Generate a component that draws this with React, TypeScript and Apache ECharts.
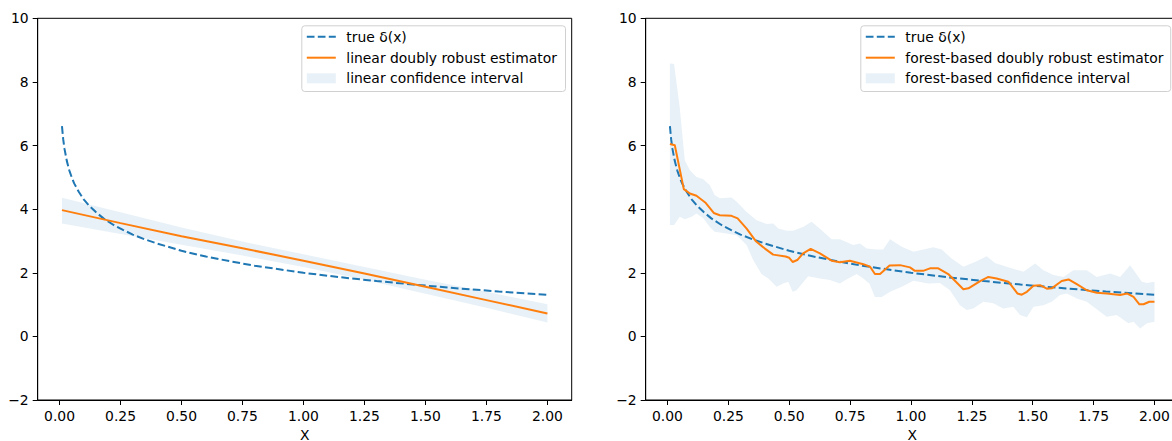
import React, { useEffect, useRef } from "react";
import * as echarts from "echarts";

// ---------- data ----------
const xTicks = [0, 0.25, 0.5, 0.75, 1.0, 1.25, 1.5, 1.75, 2.0];

const trueX = [0.01, 0.015, 0.02, 0.03, 0.04, 0.05, 0.06, 0.08, 0.1, 0.12, 0.15, 0.18, 0.22, 0.26, 0.3, 0.35, 0.4, 0.5, 0.6, 0.7, 0.8, 0.9, 1.0, 1.15, 1.3, 1.45, 1.6, 1.8, 2.0];
const trueY = [6.61, 6.2, 5.91, 5.51, 5.22, 5.0, 4.81, 4.53, 4.3, 4.12, 3.9, 3.71, 3.51, 3.35, 3.2, 3.05, 2.92, 2.69, 2.51, 2.36, 2.22, 2.11, 2.0, 1.86, 1.74, 1.63, 1.53, 1.41, 1.31];

const linX = [0.01, 0.25, 0.5, 0.75, 1.0, 1.25, 1.5, 1.75, 2.0];
const linY = [3.97, 3.56, 3.15, 2.77, 2.38, 1.98, 1.56, 1.14, 0.72];
const linUpper = [4.36, 3.9, 3.42, 2.98, 2.58, 2.18, 1.78, 1.4, 1.01];
const linLower = [3.55, 3.22, 2.88, 2.54, 2.18, 1.78, 1.34, 0.9, 0.44];

const forestX = [0.01, 0.03, 0.067, 0.092, 0.119, 0.155, 0.19, 0.215, 0.263, 0.288, 0.325, 0.362, 0.4, 0.434, 0.485, 0.5, 0.514, 0.533, 0.557, 0.588, 0.626, 0.674, 0.708, 0.749, 0.804, 0.832, 0.852, 0.873, 0.912, 0.955, 0.996, 1.016, 1.05, 1.078, 1.112, 1.153, 1.215, 1.236, 1.284, 1.318, 1.352, 1.4, 1.437, 1.455, 1.476, 1.503, 1.53, 1.558, 1.578, 1.619, 1.647, 1.681, 1.722, 1.763, 1.804, 1.859, 1.887, 1.914, 1.938, 1.955, 1.979, 2.0];
const forestY = [6.05, 6.01, 4.63, 4.49, 4.42, 4.21, 3.88, 3.81, 3.79, 3.71, 3.39, 3.0, 2.76, 2.57, 2.51, 2.47, 2.34, 2.4, 2.61, 2.75, 2.61, 2.38, 2.33, 2.38, 2.27, 2.19, 1.96, 1.96, 2.23, 2.24, 2.17, 2.06, 2.06, 2.14, 2.14, 1.96, 1.48, 1.51, 1.74, 1.87, 1.82, 1.72, 1.35, 1.31, 1.4, 1.59, 1.61, 1.5, 1.51, 1.74, 1.79, 1.64, 1.45, 1.37, 1.35, 1.3, 1.35, 1.24, 1.01, 1.01, 1.09, 1.09];

const forestUpperX = [0.01, 0.027, 0.05, 0.071, 0.092, 0.119, 0.147, 0.174, 0.194, 0.215, 0.263, 0.284, 0.325, 0.366, 0.407, 0.434, 0.455, 0.489, 0.516, 0.557, 0.592, 0.633, 0.674, 0.708, 0.763, 0.79, 0.818, 0.859, 0.886, 0.914, 0.962, 1.01, 1.092, 1.126, 1.167, 1.215, 1.263, 1.311, 1.345, 1.393, 1.462, 1.51, 1.544, 1.585, 1.626, 1.667, 1.722, 1.763, 1.818, 1.859, 1.9, 1.948, 1.969, 2.0];
const forestUpperY = [8.58, 8.56, 7.21, 5.54, 5.22, 5.01, 4.94, 4.75, 4.44, 4.34, 4.37, 4.23, 3.91, 3.65, 3.53, 3.55, 3.39, 3.32, 3.32, 3.44, 3.6, 3.34, 3.05, 3.05, 2.87, 2.92, 2.76, 2.73, 2.73, 3.05, 2.82, 2.66, 2.8, 2.73, 2.45, 2.19, 2.34, 2.52, 2.31, 2.19, 2.03, 2.29, 2.08, 1.93, 1.87, 2.08, 2.08, 1.87, 1.98, 1.87, 2.24, 1.72, 1.68, 1.72];

const forestLowerX = [0.01, 0.027, 0.05, 0.071, 0.099, 0.119, 0.147, 0.174, 0.194, 0.236, 0.284, 0.325, 0.352, 0.386, 0.414, 0.448, 0.475, 0.496, 0.514, 0.53, 0.578, 0.626, 0.667, 0.708, 0.742, 0.777, 0.804, 0.829, 0.852, 0.88, 0.914, 0.962, 1.01, 1.071, 1.119, 1.16, 1.201, 1.229, 1.256, 1.297, 1.338, 1.379, 1.42, 1.448, 1.476, 1.503, 1.544, 1.578, 1.612, 1.64, 1.681, 1.722, 1.763, 1.804, 1.845, 1.893, 1.914, 1.941, 1.969, 2.0];
const forestLowerY = [3.5, 3.5, 3.76, 3.68, 3.76, 3.86, 3.71, 3.44, 3.29, 3.24, 3.18, 2.87, 2.4, 1.96, 1.82, 1.56, 1.66, 1.72, 1.4, 1.45, 1.89, 1.82, 1.77, 1.66, 1.82, 1.96, 1.82, 1.66, 1.24, 1.24, 1.4, 1.56, 1.75, 1.66, 1.68, 1.45, 0.98, 0.83, 0.88, 1.09, 1.04, 0.88, 0.93, 0.67, 0.6, 0.93, 0.98, 1.09, 1.3, 1.35, 1.19, 1.09, 0.85, 0.62, 0.67, 0.41, 0.46, 0.25, 0.41, 0.46];

const leftLabels = ["true δ(x)", "linear doubly robust estimator", "linear confidence interval"];
const rightLabels = ["true δ(x)", "forest-based doubly robust estimator", "forest-based confidence interval"];

// ---------- helpers ----------
const BLUE = "#1f77b4";
const ORANGE = "#ff7f0e";
const BAND = "rgba(31,119,180,0.1)";
const FONT = "DejaVu Sans";
const FS = 13.9;

const zip = (xs: number[], ys: number[]) => xs.map((x, i) => [x, ys[i]]);

function bandPolygon(ux: number[], uy: number[], lx: number[], ly: number[]) {
  const up = zip(ux, uy);
  const lo = zip(lx, ly).reverse();
  return up.concat(lo);
}

function bandSeries(poly: number[][], idx: number) {
  return {
    type: "custom",
    xAxisIndex: idx,
    yAxisIndex: idx,
    z: 1,
    silent: true,
    data: poly,
    renderItem: (params: any, api: any) => {
      if (params.dataIndex !== 0) return null;
      const pts = poly.map((p) => api.coord(p));
      return {
        type: "polygon",
        shape: { points: pts },
        style: { fill: BAND, stroke: "none" },
      };
    },
  };
}

function xAxis(idx: number) {
  return {
    type: "value",
    gridIndex: idx,
    min: -0.0895,
    max: 2.0995,
    name: "X",
    nameLocation: "middle",
    nameGap: 22,
    nameTextStyle: { color: "#000", fontFamily: FONT, fontSize: FS, lineHeight: 14 },
    axisLine: { show: true, onZero: false, lineStyle: { color: "#000", width: 1 } },
    axisTick: { show: true, inside: false, length: 5, customValues: xTicks, lineStyle: { color: "#000", width: 1 } },
    axisLabel: {
      customValues: xTicks,
      color: "#000",
      fontFamily: FONT,
      fontSize: FS,
      margin: 9,
      formatter: (v: number) => v.toFixed(2),
    },
    splitLine: { show: false },
  };
}

function yAxis(idx: number) {
  return {
    type: "value",
    gridIndex: idx,
    min: -2,
    max: 10,
    interval: 2,
    axisLine: { show: true, onZero: false, lineStyle: { color: "#000", width: 1 } },
    axisTick: { show: true, inside: false, length: 5, lineStyle: { color: "#000", width: 1 } },
    axisLabel: {
      color: "#000",
      fontFamily: FONT,
      fontSize: FS,
      margin: 9,
      formatter: (v: number) => (v < 0 ? "\u2212" + Math.abs(v) : String(v)),
    },
    splitLine: { show: false },
  };
}

function legendGraphic(x0: number, x1: number, labels: string[]) {
  const y0 = 25.3;
  const y1 = 91;
  const rows = [36.7, 57.7, 78.3];
  const hx0 = x0 + 5.5;
  const hx1 = x0 + 34.5;
  const tx = x0 + 45;
  const els: any[] = [
    {
      type: "rect",
      shape: { x: x0 + 0.5, y: y0 + 0.5, width: x1 - x0, height: y1 - y0, r: 3 },
      style: { fill: "rgba(255,255,255,0.8)", stroke: "#d0d0d0", lineWidth: 1 },
      z: 100,
    },
    {
      type: "line",
      shape: { x1: hx0, y1: rows[0], x2: hx1, y2: rows[0] },
      style: { stroke: BLUE, lineWidth: 2, lineDash: [7.7, 3.3] },
      z: 101,
    },
    {
      type: "line",
      shape: { x1: hx0, y1: rows[1], x2: hx1, y2: rows[1] },
      style: { stroke: ORANGE, lineWidth: 2 },
      z: 101,
    },
    {
      type: "rect",
      shape: { x: hx0, y: rows[2] - 5, width: hx1 - hx0, height: 10 },
      style: { fill: BAND },
      z: 101,
    },
  ];
  labels.forEach((t, i) => {
    els.push({
      type: "text",
      x: tx,
      y: rows[i],
      style: { text: t, fill: "#000", font: `${FS}px "${FONT}"`, textVerticalAlign: "middle", textAlign: "left" },
      z: 102,
    });
  });
  return els;
}

export default function App() {
  const ref = useRef<HTMLDivElement>(null);
  useEffect(() => {
    if (!ref.current) return;
    const chart = echarts.init(ref.current, null, { renderer: "svg" });
    const option: any = {
      animation: false,
      backgroundColor: "#fff",
      grid: [
        { left: 37.7, top: 18.3, width: 534, height: 381.7, show: true, borderColor: "#000", borderWidth: 1, containLabel: false, outerBoundsMode: "none" },
        { left: 645.7, top: 18.3, width: 533, height: 381.7, show: true, borderColor: "#000", borderWidth: 1, containLabel: false, outerBoundsMode: "none" },
      ],
      xAxis: [xAxis(0), xAxis(1)],
      yAxis: [yAxis(0), yAxis(1)],
      series: [
        bandSeries(bandPolygon(linX, linUpper, linX, linLower), 0),
        {
          type: "line",
          xAxisIndex: 0,
          yAxisIndex: 0,
          data: zip(trueX, trueY),
          symbol: "none",
          z: 2,
          lineStyle: { color: BLUE, width: 2, type: [7.7, 3.3] },
        },
        {
          type: "line",
          xAxisIndex: 0,
          yAxisIndex: 0,
          data: zip(linX, linY),
          symbol: "none",
          z: 3,
          lineStyle: { color: ORANGE, width: 2 },
        },
        bandSeries(bandPolygon(forestUpperX, forestUpperY, forestLowerX, forestLowerY), 1),
        {
          type: "line",
          xAxisIndex: 1,
          yAxisIndex: 1,
          data: zip(trueX, trueY),
          symbol: "none",
          z: 2,
          lineStyle: { color: BLUE, width: 2, type: [7.7, 3.3] },
        },
        {
          type: "line",
          xAxisIndex: 1,
          yAxisIndex: 1,
          data: zip(forestX, forestY),
          symbol: "none",
          z: 3,
          lineStyle: { color: ORANGE, width: 2, join: "round" },
        },
      ],
      graphic: [...legendGraphic(301.3, 565, leftLabels), ...legendGraphic(860.3, 1170.2, rightLabels)],
    };
    chart.setOption(option);
    return () => chart.dispose();
  }, []);
  return (
    <div style={{ position: "fixed", left: 0, top: 0, width: 1172, height: 441, overflow: "hidden", background: "#fff" }}>
      <div ref={ref} style={{ width: 1180, height: 441 }} />
    </div>
  );
}
